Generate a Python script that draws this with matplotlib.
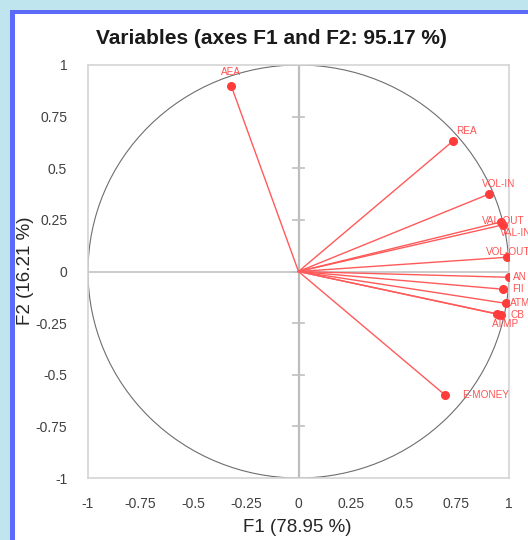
import numpy as np
import matplotlib
matplotlib.use("Agg")
import matplotlib.pyplot as plt
from matplotlib.patches import Rectangle, Circle

plt.rcParams['font.family'] = ['Liberation Sans', 'DejaVu Sans']

variables = ["AEA", "REA", "VOL-IN", "VAL-OUT", "VAL-IN", "VOL-OUT", "AN", "FII", "ATM", "CB", "ATMP", "E-MONEY"]
f1 = [-0.32, 0.734, 0.905, 0.962, 0.972, 0.990, 1.000, 0.973, 0.984, 0.962, 0.941, 0.696]
f2 = [0.900, 0.632, 0.375, 0.240, 0.226, 0.069, -0.028, -0.086, -0.154, -0.209, -0.206, -0.598]
# label offsets (points)
label_offsets = {
    "AEA": (0, 10, "center"), "REA": (2, 7, "left"), "VOL-IN": (-5, 7, "left"),
    "VAL-OUT": (-14, 1, "left"), "VAL-IN": (-2, -6, "left"), "VOL-OUT": (-15, 4, "left"),
    "AN": (3, 0, "left"), "FII": (6, 0, "left"), "ATM": (3, 0, "left"),
    "CB": (7, 0, "left"), "ATMP": (-3, -7, "left"), "E-MONEY": (12, 0, "left"),
}
ticks = [-1, -0.75, -0.5, -0.25, 0, 0.25, 0.5, 0.75, 1]
tick_labels = ["-1", "-0.75", "-0.5", "-0.25", "0", "0.25", "0.5", "0.75", "1"]
title = "Variables (axes F1 and F2: 95.17 %)"
xlabel = "F1 (78.95 %)"
ylabel = "F2 (16.21 %)"

W, H = 528, 540
fig = plt.figure(figsize=(W / 100, H / 100), dpi=100)
fig.patch.set_facecolor('#bfe5ee')
# white panel and blue border
fig.patches.append(Rectangle((10 / W, 0), 1, 1 - 10 / H, transform=fig.transFigure,
                             facecolor='#5b6af7', edgecolor='none', zorder=-3))
fig.patches.append(Rectangle((15 / W, 0), 1, 1 - 14 / H, transform=fig.transFigure,
                             facecolor='white', edgecolor='none', zorder=-2))
# strip of blue left border drawn above the y label
fig.patches.append(Rectangle((10 / W, 0), 5 / W, 1 - 10 / H, transform=fig.transFigure,
                             facecolor='#5b6af7', edgecolor='none', zorder=0.5))

ax = fig.add_axes([88 / W, 1 - 478 / H, 421 / W, 413 / H])
ax.set_xlim(-1, 1)
ax.set_ylim(-1, 1)
for s in ax.spines.values():
    s.set_color('#d4d4d4')
    s.set_linewidth(1.2)
ax.set_xticks(ticks)
ax.set_xticklabels(tick_labels)
ax.set_yticks(ticks)
ax.set_yticklabels(tick_labels)
ax.tick_params(length=0, labelsize=10, colors='#404040', pad=14)
ax.tick_params(axis='y', pad=15)

# axes through origin
ax.plot([-1, 1], [0, 0], color='#bdbdbd', lw=1.1, zorder=1)
ax.plot([0, 0], [-1, 1], color='#bdbdbd', lw=1.6, zorder=1)
tl = 0.024
for t in ticks:
    ax.plot([-tl, tl], [t, t], color='#c4c4c4', lw=1.3, zorder=1)

ax.add_patch(Circle((0, 0), 1, fill=False, edgecolor='#6e6e6e', lw=0.8, zorder=2))

for name, x, y in zip(variables, f1, f2):
    ax.plot([0, x], [0, y], color='#ff5a5a', lw=1.0, zorder=3)
    ax.plot(x, y, 'o', color='#ff3c3c', ms=5.5, zorder=4)
    dx, dy, ha = label_offsets[name]
    ax.annotate(name, (x, y), xytext=(dx, dy), textcoords='offset points',
                ha=ha, va='center', fontsize=7.2, color='#ff5252', zorder=5,
                annotation_clip=False)

fig.text(271 / W, 1 - 39 / H, title, ha='center', va='center', fontsize=15,
         fontweight='bold', color='#1a1a1a')
fig.text(297 / W, 1 - 527 / H, xlabel, ha='center', va='center', fontsize=13.5, color='#262626')
fig.text(26 / W, 1 - 271 / H, ylabel, ha='center', va='center', rotation=90,
         fontsize=13.5, color='#262626', zorder=0.2)

fig.savefig('out.png', dpi=100, facecolor=fig.get_facecolor())
